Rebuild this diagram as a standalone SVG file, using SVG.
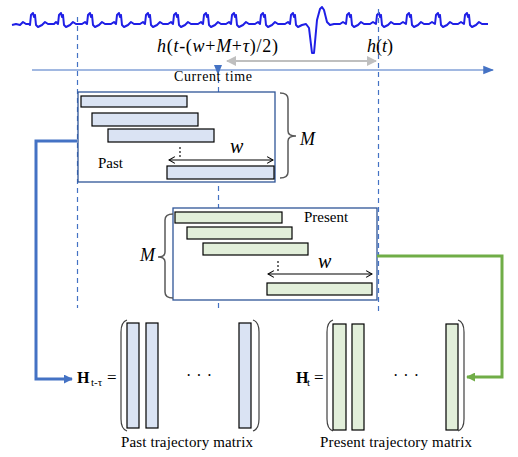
<svg xmlns="http://www.w3.org/2000/svg" width="518" height="457" viewBox="0 0 518 457" font-family="'Liberation Serif','Times New Roman',serif">
<defs>
<style>
text{font-family:"Liberation Serif","Times New Roman",serif;fill:#000}
.it{font-style:italic}
.dash{stroke:#4472c4;stroke-width:1.2;stroke-dasharray:5,4;fill:none}
.box{fill:#fff;stroke:#2f5597;stroke-width:1.3}
.pb{fill:#dae3f3;stroke:#000;stroke-width:1.2}
.gb{fill:#e2efda;stroke:#000;stroke-width:1.2}
.brace{fill:none;stroke:#595959;stroke-width:1.5}
.paren{fill:none;stroke:#404040;stroke-width:1.2}
.warr{stroke:#000;stroke-width:1.2;fill:none}
</style>
<marker id="blueHead" viewBox="0 0 10 10" refX="9" refY="5" markerWidth="3" markerHeight="3" orient="auto"><path d="M0,0 L10,5 L0,10 z" fill="#4472c4"/></marker>
<marker id="greenHead" viewBox="0 0 10 10" refX="9" refY="5" markerWidth="3" markerHeight="3" orient="auto"><path d="M0,0 L10,5 L0,10 z" fill="#70ad47"/></marker>
<marker id="axisHead" viewBox="0 0 10 10" refX="9" refY="5" markerWidth="9" markerHeight="9" orient="auto"><path d="M0,1 L10,5 L0,9 z" fill="#4472c4"/></marker>
<marker id="grayHead" viewBox="0 0 10 10" refX="9" refY="5" markerWidth="5" markerHeight="5" orient="auto-start-reverse"><path d="M0,0 L10,5 L0,10 z" fill="#bfbfbf"/></marker>
<marker id="openHead" viewBox="0 0 10 10" refX="9" refY="5" markerWidth="7" markerHeight="7" orient="auto-start-reverse"><path d="M2,1 L9,5 L2,9" fill="none" stroke="#000" stroke-width="1.2"/></marker>
</defs>

<g id="signal">
<path fill="none" stroke="#1f1fe6" stroke-width="2" stroke-linejoin="round" d="M12,25 L16,24 L20,25 L23,22 L26,24 L29,24 L30,25 L31,15 L33,13 L34,17 L35,15 L36,25 L38,27 L42,25 L45,22 L48,24 L54,24 L56,22 L58,24 L59,15 L61,13 L62,17 L63,15 L64,25 L66,27 L70,25 L73,22 L76,24 L82,24 L85,22 L87,24 L88,15 L90,13 L91,17 L92,15 L93,25 L95,27 L99,25 L102,22 L105,24 L111,24 L114,22 L116,24 L117,15 L119,13 L120,17 L121,15 L122,25 L124,27 L128,25 L131,22 L134,24 L140,24 L143,22 L145,24 L146,15 L148,13 L149,17 L150,15 L151,25 L153,27 L157,25 L160,22 L163,24 L168,24 L171,22 L173,24 L174,15 L176,13 L177,17 L178,15 L179,25 L181,27 L185,25 L188,22 L191,24 L198,24 L201,22 L203,24 L204,15 L206,13 L207,17 L208,15 L209,25 L211,27 L215,25 L218,22 L221,24 L226,24 L229,22 L231,24 L232,15 L234,13 L235,17 L236,15 L237,25 L239,27 L243,25 L246,22 L249,24 L255,24 L258,22 L260,24 L261,15 L263,13 L264,17 L265,15 L266,25 L268,27 L272,25 L275,22 L278,24 L285,24 L288,22 L290,24 L291,15 L293,13 L294,17 L295,15 L296,25 L298,27 L302,25 L306,24 L309,28 L312,53 L314,53 L317,20 L320,9 L322,7 L324,10 L327,22 L330,25 L334,24 L340,24 L343,22 L346,24 L347,15 L349,13 L350,17 L351,15 L352,25 L354,27 L358,25 L361,22 L364,24 L370,24 L373,22 L376,24 L377,15 L379,13 L380,17 L381,15 L382,25 L384,27 L388,25 L391,22 L394,24 L400,24 L403,22 L406,24 L407,15 L409,13 L410,17 L411,15 L412,25 L414,27 L418,25 L421,22 L424,24 L429,24 L432,22 L435,24 L436,15 L438,13 L439,17 L440,15 L441,25 L443,27 L447,25 L450,22 L453,24 L458,24 L461,22 L464,24 L465,15 L467,13 L468,17 L469,15 L470,25 L472,27 L476,25 L479,22 L482,24 L488,24"/>
</g>

<g id="guides">
<line class="dash" x1="77.5" y1="17" x2="77.5" y2="308"/>
<line class="dash" x1="218.5" y1="78" x2="218.5" y2="312"/>
<line class="dash" x1="378.5" y1="9" x2="378.5" y2="312"/>
</g>

<g id="timeline">
<line x1="32" y1="70" x2="493" y2="70" stroke="#4472c4" stroke-width="1.2" marker-end="url(#axisHead)"/>
<path d="M214,65 L222,65 L218,75 z" fill="#4472c4"/>
<line x1="227" y1="61" x2="376" y2="61" stroke="#bfbfbf" stroke-width="2" marker-start="url(#grayHead)" marker-end="url(#grayHead)"/>
<text x="157" y="52" font-size="18" textLength="121"><tspan class="it">h</tspan>(<tspan class="it">t</tspan>-(<tspan class="it">w</tspan>+<tspan class="it">M</tspan>+<tspan class="it">τ</tspan>)/2)</text>
<text x="367" y="52" font-size="18"><tspan class="it">h</tspan>(<tspan class="it">t</tspan>)</text>
<text x="174" y="81" font-size="14" textLength="78">Current  time</text>
</g>

<g id="past">
<rect class="box" x="78" y="92" width="197" height="90"/>
<rect class="pb" x="81" y="96" width="106" height="11"/>
<rect class="pb" x="92" y="113" width="106" height="13"/>
<rect class="pb" x="108" y="129" width="106" height="13"/>
<rect class="pb" x="167" y="166" width="107" height="13"/>
<line x1="180" y1="147" x2="180" y2="157" stroke="#404040" stroke-width="1.5" stroke-dasharray="2,2"/>
<line class="warr" x1="169" y1="160" x2="273" y2="160" marker-start="url(#openHead)" marker-end="url(#openHead)"/>
<text class="it" x="230" y="153" font-size="20">w</text>
<text x="98" y="168" font-size="15">Past</text>
<path class="brace" d="M280,93 Q288,93 288,99 L288,131 Q288,136 296,136 Q288,136 288,141 L288,172 Q288,178 280,178"/>
<text class="it" x="300" y="145" font-size="18">M</text>
</g>

<g id="present">
<rect class="box" x="173" y="208" width="204" height="92"/>
<rect class="gb" x="175" y="212" width="107" height="11"/>
<rect class="gb" x="187" y="227" width="105" height="12"/>
<rect class="gb" x="203" y="243" width="105" height="12"/>
<rect class="gb" x="267" y="283" width="105" height="12"/>
<line x1="278" y1="261" x2="278" y2="271" stroke="#404040" stroke-width="1.5" stroke-dasharray="2,2"/>
<line class="warr" x1="268" y1="274" x2="372" y2="274" marker-start="url(#openHead)" marker-end="url(#openHead)"/>
<text class="it" x="318" y="268" font-size="20">w</text>
<text x="304" y="222" font-size="15">Present</text>
<path class="brace" d="M173,214 Q165,214 165,220 L165,252 Q165,257 158,257 Q165,257 165,262 L165,292 Q165,298 173,298"/>
<text class="it" x="140" y="261" font-size="18">M</text>
</g>

<g id="pastMatrix">
<text x="77" y="383" font-size="16" font-weight="bold">H</text>
<text x="91" y="386" font-size="11">t-τ</text>
<text x="107" y="383" font-size="17">=</text>
<path class="paren" d="M127,320 Q121,322 121,332 L121,419 Q121,429 127,431"/>
<rect class="pb" x="127" y="323" width="12" height="105"/>
<rect class="pb" x="146" y="323" width="12" height="105"/>
<rect class="pb" x="239" y="323" width="12" height="105"/>
<path class="paren" d="M253,320 Q259,322 259,332 L259,419 Q259,429 253,431"/>
<text x="186" y="381" font-size="16" letter-spacing="5">···</text>
<text x="121" y="447" font-size="15" textLength="132">Past trajectory  matrix</text>
</g>

<g id="presentMatrix">
<text x="296" y="383" font-size="16" font-weight="bold">H</text>
<text x="307" y="386" font-size="11">t</text>
<text x="314" y="383" font-size="17">=</text>
<path class="paren" d="M333,320 Q327,322 327,332 L327,419 Q327,429 333,431"/>
<rect class="gb" x="333" y="324" width="13" height="106"/>
<rect class="gb" x="352" y="324" width="12" height="106"/>
<rect class="gb" x="446" y="324" width="12" height="106"/>
<path class="paren" d="M458,320 Q464,322 464,332 L464,419 Q464,429 458,431"/>
<text x="393" y="381" font-size="16" letter-spacing="5">···</text>
<text x="320" y="447" font-size="15" textLength="152">Present trajectory  matrix</text>
</g>

<g id="connectors">
<path d="M77,141 H36 V379 H72" fill="none" stroke="#4472c4" stroke-width="3" marker-end="url(#blueHead)"/>
<path d="M377,256 H502 V377 H467" fill="none" stroke="#70ad47" stroke-width="3" marker-end="url(#greenHead)"/>
</g>
</svg>
